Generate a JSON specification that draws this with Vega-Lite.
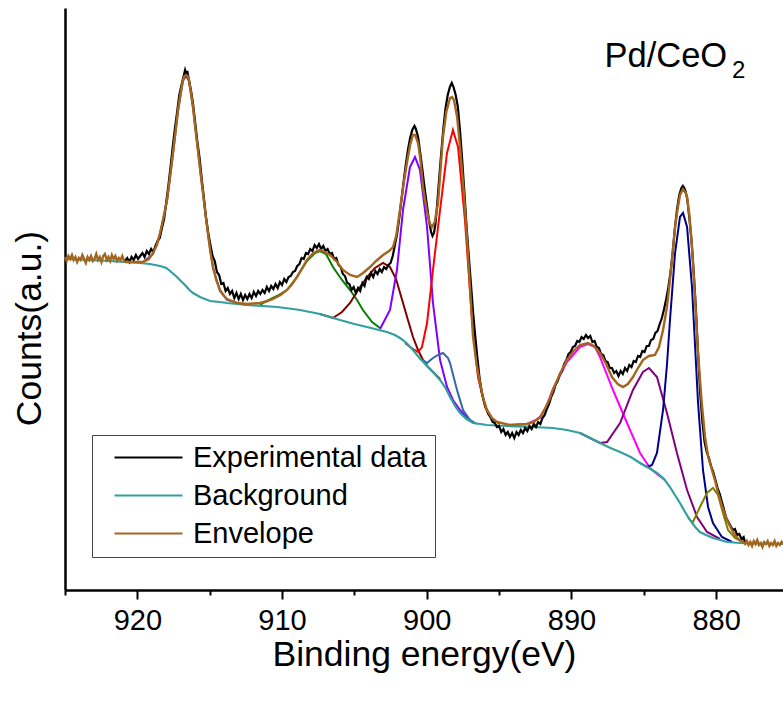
{
"$schema": "https://vega.github.io/schema/vega-lite/v6.json",
"width": 718, "height": 582,
"autosize": {"type": "none"},
"padding": {"left": 65, "top": 8, "right": 0, "bottom": 114},
"background": "white",
"config": {"view": {"stroke": null}, "font": "Liberation Sans"},
"datasets": {
"exp": [
{"x":920.85,"y":329},{"x":920.7,"y":332},{"x":920.55,"y":328},{"x":920.4,"y":333},{"x":920.25,"y":330},{"x":920.1,"y":335},{"x":919.95,"y":331},{"x":919.8,"y":334},{"x":919.65,"y":337},{"x":919.5,"y":333},{"x":919.35,"y":339},{"x":919.2,"y":336},{"x":919.05,"y":341},{"x":918.9,"y":338},{"x":918.75,"y":344},{"x":918.6,"y":349},{"x":918.45,"y":352},{"x":918.3,"y":362},{"x":918.15,"y":371},{"x":918.0,"y":388},{"x":917.85,"y":405},{"x":917.7,"y":424},{"x":917.55,"y":444},{"x":917.4,"y":462},{"x":917.25,"y":478},{"x":917.1,"y":495},{"x":916.95,"y":505},{"x":916.8,"y":514},{"x":916.7,"y":520},{"x":916.62,"y":516},{"x":916.55,"y":519},{"x":916.45,"y":511},{"x":916.3,"y":500},{"x":916.15,"y":486},{"x":916.0,"y":467},{"x":915.85,"y":448},{"x":915.7,"y":432},{"x":915.55,"y":411},{"x":915.4,"y":392},{"x":915.25,"y":372},{"x":915.1,"y":357},{"x":914.95,"y":345},{"x":914.8,"y":334},{"x":914.65,"y":329},{"x":914.5,"y":318},{"x":914.35,"y":315},{"x":914.2,"y":306},{"x":914.05,"y":307},{"x":913.9,"y":299},{"x":913.75,"y":302},{"x":913.6,"y":296},{"x":913.45,"y":299},{"x":913.3,"y":292},{"x":913.15,"y":297},{"x":913.0,"y":291},{"x":912.85,"y":296},{"x":912.7,"y":290},{"x":912.55,"y":295},{"x":912.4,"y":291},{"x":912.25,"y":296},{"x":912.1,"y":292},{"x":911.95,"y":298},{"x":911.8,"y":294},{"x":911.65,"y":299},{"x":911.5,"y":296},{"x":911.35,"y":300},{"x":911.2,"y":297},{"x":911.05,"y":303},{"x":910.9,"y":299},{"x":910.75,"y":304},{"x":910.6,"y":301},{"x":910.45,"y":306},{"x":910.3,"y":302},{"x":910.15,"y":308},{"x":910.0,"y":305},{"x":909.85,"y":311},{"x":909.7,"y":308},{"x":909.55,"y":313},{"x":909.4,"y":314},{"x":909.25,"y":318},{"x":909.1,"y":319},{"x":908.95,"y":324},{"x":908.8,"y":326},{"x":908.65,"y":332},{"x":908.5,"y":331},{"x":908.35,"y":337},{"x":908.2,"y":336},{"x":908.05,"y":341},{"x":907.9,"y":339},{"x":907.75,"y":345},{"x":907.6,"y":342},{"x":907.45,"y":346},{"x":907.3,"y":341},{"x":907.15,"y":344},{"x":907.0,"y":339},{"x":906.85,"y":341},{"x":906.7,"y":336},{"x":906.55,"y":337},{"x":906.4,"y":331},{"x":906.25,"y":332},{"x":906.1,"y":325},{"x":905.95,"y":323},{"x":905.8,"y":316},{"x":905.65,"y":314},{"x":905.5,"y":307},{"x":905.35,"y":306},{"x":905.2,"y":300},{"x":905.05,"y":303},{"x":904.9,"y":297},{"x":904.75,"y":302},{"x":904.6,"y":299},{"x":904.45,"y":307},{"x":904.3,"y":304},{"x":904.15,"y":313},{"x":904.0,"y":311},{"x":903.85,"y":317},{"x":903.7,"y":313},{"x":903.55,"y":319},{"x":903.4,"y":316},{"x":903.25,"y":321},{"x":903.1,"y":318},{"x":902.95,"y":323},{"x":902.8,"y":321},{"x":902.65,"y":325},{"x":902.5,"y":327},{"x":902.35,"y":334},{"x":902.2,"y":345},{"x":902.05,"y":356},{"x":901.9,"y":372},{"x":901.75,"y":390},{"x":901.6,"y":408},{"x":901.45,"y":425},{"x":901.3,"y":440},{"x":901.15,"y":452},{"x":901.0,"y":460},{"x":900.85,"y":464},{"x":900.75,"y":461},{"x":900.6,"y":453},{"x":900.45,"y":437},{"x":900.3,"y":420},{"x":900.15,"y":402},{"x":900.0,"y":386},{"x":899.85,"y":370},{"x":899.7,"y":358},{"x":899.6,"y":354},{"x":899.5,"y":357},{"x":899.4,"y":366},{"x":899.3,"y":382},{"x":899.15,"y":410},{"x":899.0,"y":437},{"x":898.85,"y":462},{"x":898.7,"y":482},{"x":898.55,"y":495},{"x":898.4,"y":503},{"x":898.27,"y":507},{"x":898.15,"y":503},{"x":898.0,"y":495},{"x":897.85,"y":483},{"x":897.7,"y":459},{"x":897.55,"y":430},{"x":897.4,"y":398},{"x":897.25,"y":364},{"x":897.1,"y":335},{"x":896.95,"y":307},{"x":896.8,"y":278},{"x":896.65,"y":254},{"x":896.5,"y":232},{"x":896.35,"y":212},{"x":896.2,"y":198},{"x":896.05,"y":189},{"x":895.9,"y":182},{"x":895.75,"y":176},{"x":895.6,"y":173},{"x":895.45,"y":168},{"x":895.3,"y":167},{"x":895.15,"y":163},{"x":895.0,"y":164},{"x":894.85,"y":158},{"x":894.7,"y":161},{"x":894.55,"y":155},{"x":894.4,"y":158},{"x":894.25,"y":153},{"x":894.1,"y":157},{"x":893.95,"y":152},{"x":893.8,"y":158},{"x":893.65,"y":155},{"x":893.5,"y":160},{"x":893.35,"y":157},{"x":893.2,"y":162},{"x":893.05,"y":159},{"x":892.9,"y":164},{"x":892.75,"y":161},{"x":892.6,"y":166},{"x":892.45,"y":163},{"x":892.3,"y":168},{"x":892.15,"y":166},{"x":892.0,"y":172},{"x":891.85,"y":175},{"x":891.7,"y":181},{"x":891.55,"y":186},{"x":891.4,"y":193},{"x":891.25,"y":198},{"x":891.1,"y":205},{"x":890.95,"y":209},{"x":890.8,"y":216},{"x":890.65,"y":219},{"x":890.5,"y":226},{"x":890.35,"y":230},{"x":890.2,"y":236},{"x":890.05,"y":238},{"x":889.9,"y":243},{"x":889.75,"y":244},{"x":889.6,"y":249},{"x":889.45,"y":248},{"x":889.3,"y":253},{"x":889.15,"y":251},{"x":889.0,"y":255},{"x":888.85,"y":252},{"x":888.7,"y":254},{"x":888.55,"y":248},{"x":888.4,"y":249},{"x":888.25,"y":243},{"x":888.1,"y":242},{"x":887.95,"y":236},{"x":887.8,"y":235},{"x":887.65,"y":229},{"x":887.5,"y":228},{"x":887.35,"y":222},{"x":887.2,"y":222},{"x":887.05,"y":217},{"x":886.9,"y":219},{"x":886.75,"y":214},{"x":886.6,"y":219},{"x":886.45,"y":216},{"x":886.3,"y":222},{"x":886.15,"y":219},{"x":886.0,"y":225},{"x":885.85,"y":223},{"x":885.7,"y":229},{"x":885.55,"y":228},{"x":885.4,"y":234},{"x":885.25,"y":233},{"x":885.1,"y":239},{"x":884.95,"y":238},{"x":884.8,"y":244},{"x":884.65,"y":244},{"x":884.5,"y":250},{"x":884.35,"y":251},{"x":884.2,"y":257},{"x":884.05,"y":259},{"x":883.9,"y":266},{"x":883.75,"y":272},{"x":883.6,"y":281},{"x":883.45,"y":291},{"x":883.3,"y":303},{"x":883.15,"y":318},{"x":883.0,"y":338},{"x":882.85,"y":362},{"x":882.7,"y":381},{"x":882.55,"y":395},{"x":882.4,"y":402},{"x":882.3,"y":404},{"x":882.2,"y":402},{"x":882.1,"y":398},{"x":882.0,"y":391},{"x":881.85,"y":372},{"x":881.7,"y":349},{"x":881.55,"y":318},{"x":881.4,"y":281},{"x":881.25,"y":236},{"x":881.1,"y":196},{"x":880.95,"y":168},{"x":880.8,"y":148},{"x":880.65,"y":138},{"x":880.5,"y":132},{"x":880.35,"y":124},{"x":880.2,"y":118},{"x":880.05,"y":110},{"x":879.9,"y":102},{"x":879.75,"y":96},{"x":879.6,"y":88},{"x":879.45,"y":80},{"x":879.3,"y":72},{"x":879.15,"y":68},{"x":879.0,"y":64},{"x":878.85,"y":60},{"x":878.7,"y":61},{"x":878.55,"y":55},{"x":878.4,"y":56},{"x":878.25,"y":51},{"x":878.1,"y":53},{"x":878.0,"y":47}
],
"env": [
{"x":925.0,"y":333},{"x":924.88,"y":329},{"x":924.76,"y":334},{"x":924.64,"y":331},{"x":924.52,"y":335},{"x":924.4,"y":330},{"x":924.28,"y":333},{"x":924.16,"y":328},{"x":924.04,"y":332},{"x":923.92,"y":330},{"x":923.8,"y":335},{"x":923.68,"y":331},{"x":923.56,"y":327},{"x":923.44,"y":333},{"x":923.32,"y":330},{"x":923.2,"y":334},{"x":923.08,"y":329},{"x":922.96,"y":331},{"x":922.84,"y":336},{"x":922.72,"y":330},{"x":922.6,"y":333},{"x":922.48,"y":328},{"x":922.36,"y":334},{"x":922.24,"y":336},{"x":922.12,"y":330},{"x":922.0,"y":333},{"x":921.88,"y":329},{"x":921.76,"y":335},{"x":921.64,"y":331},{"x":921.52,"y":334},{"x":921.4,"y":329},{"x":921.28,"y":332},{"x":921.16,"y":330},{"x":921.04,"y":334},{"x":920.92,"y":329},
{"x":920.8,"y":328},{"x":920.2,"y":328},{"x":919.61,"y":328},{"x":919.2,"y":331},{"x":918.92,"y":337},{"x":918.65,"y":345},{"x":918.43,"y":357},{"x":918.2,"y":372},{"x":917.95,"y":390},{"x":917.75,"y":412},{"x":917.54,"y":437},{"x":917.35,"y":460},{"x":917.19,"y":480},{"x":917.0,"y":498},{"x":916.85,"y":510},{"x":916.74,"y":514},{"x":916.64,"y":515},{"x":916.53,"y":514},{"x":916.43,"y":510},{"x":916.3,"y":498},{"x":916.15,"y":483},{"x":916.0,"y":463},{"x":915.81,"y":440},{"x":915.64,"y":418},{"x":915.46,"y":397},{"x":915.3,"y":377},{"x":915.12,"y":357},{"x":914.95,"y":338},{"x":914.77,"y":323},{"x":914.55,"y":310},{"x":914.29,"y":300},{"x":914.0,"y":294},{"x":913.8,"y":291},{"x":913.11,"y":287},{"x":912.42,"y":286},{"x":911.52,"y":287},{"x":911.0,"y":289},{"x":910.63,"y":291},{"x":910.1,"y":295},{"x":909.66,"y":300},{"x":909.3,"y":306},{"x":908.97,"y":313},{"x":908.6,"y":322},{"x":908.28,"y":330},{"x":907.9,"y":336},{"x":907.58,"y":339},{"x":907.38,"y":340},{"x":907.17,"y":339},{"x":906.93,"y":337},{"x":906.69,"y":335},{"x":906.2,"y":328},{"x":905.79,"y":320},{"x":905.3,"y":315},{"x":904.82,"y":313},{"x":904.4,"y":317},{"x":903.92,"y":323},{"x":903.5,"y":329},{"x":903.02,"y":335},{"x":902.6,"y":339},{"x":902.33,"y":343},{"x":902.1,"y":355},{"x":901.85,"y":380},{"x":901.6,"y":406},{"x":901.37,"y":427},{"x":901.15,"y":445},{"x":900.95,"y":455},{"x":900.8,"y":455},{"x":900.6,"y":447},{"x":900.45,"y":432},{"x":900.26,"y":403},{"x":900.0,"y":380},{"x":899.8,"y":367},{"x":899.64,"y":363},{"x":899.45,"y":368},{"x":899.22,"y":387},{"x":899.05,"y":420},{"x":898.88,"y":453},{"x":898.65,"y":478},{"x":898.39,"y":492},{"x":898.25,"y":493},{"x":898.12,"y":490},{"x":897.9,"y":473},{"x":897.7,"y":443},{"x":897.45,"y":400},{"x":897.22,"y":353},{"x":897.0,"y":300},{"x":896.8,"y":253},{"x":896.55,"y":225},{"x":896.32,"y":207},{"x":896.1,"y":192},{"x":895.84,"y":180},{"x":895.5,"y":172},{"x":895.14,"y":168},{"x":894.25,"y":165},{"x":893.07,"y":166},{"x":892.6,"y":168},{"x":892.17,"y":173},{"x":891.8,"y":182},{"x":891.48,"y":192},{"x":891.28,"y":200},{"x":890.8,"y":216},{"x":890.31,"y":230},{"x":889.85,"y":239},{"x":889.41,"y":245},{"x":888.86,"y":247},{"x":888.45,"y":244},{"x":888.03,"y":237},{"x":887.6,"y":226},{"x":887.2,"y":213},{"x":886.8,"y":206},{"x":886.44,"y":203},{"x":886.1,"y":206},{"x":885.75,"y":213},{"x":885.4,"y":222},{"x":885.06,"y":230},{"x":884.65,"y":234},{"x":884.23,"y":235},{"x":883.95,"y":243},{"x":883.67,"y":260},{"x":883.4,"y":283},{"x":883.19,"y":310},{"x":883.0,"y":338},{"x":882.84,"y":363},{"x":882.65,"y":382},{"x":882.5,"y":395},{"x":882.29,"y":401},{"x":882.1,"y":397},{"x":882.01,"y":393},{"x":881.85,"y":375},{"x":881.67,"y":343},{"x":881.45,"y":290},{"x":881.25,"y":237},{"x":881.0,"y":188},{"x":880.77,"y":153},{"x":880.55,"y":133},{"x":880.29,"y":120},{"x":880.05,"y":108},{"x":879.87,"y":97},{"x":879.55,"y":82},{"x":879.25,"y":70},{"x":878.95,"y":61},{"x":878.7,"y":55},{"x":878.4,"y":50},{"x":878.14,"y":48},
{"x":878.0,"y":46},{"x":877.88,"y":49},{"x":877.76,"y":45},{"x":877.64,"y":48},{"x":877.52,"y":44},{"x":877.4,"y":49},{"x":877.28,"y":46},{"x":877.16,"y":50},{"x":877.04,"y":45},{"x":876.92,"y":47},{"x":876.8,"y":43},{"x":876.68,"y":48},{"x":876.56,"y":46},{"x":876.44,"y":49},{"x":876.32,"y":44},{"x":876.2,"y":47},{"x":876.08,"y":45},{"x":875.96,"y":49},{"x":875.84,"y":44},{"x":875.72,"y":47},{"x":875.6,"y":45},{"x":875.48,"y":48},{"x":875.38,"y":46}
],
"bg": [
{"x":925.0,"y":331},{"x":922.0,"y":329},{"x":920.85,"y":328},{"x":919.82,"y":327},{"x":919.13,"y":326},{"x":918.43,"y":324},{"x":918.0,"y":322},{"x":917.74,"y":319},{"x":917.5,"y":316},{"x":917.26,"y":313},{"x":917.0,"y":309},{"x":916.71,"y":305},{"x":916.4,"y":300},{"x":916.15,"y":297},{"x":915.67,"y":293},{"x":914.98,"y":289},{"x":914.3,"y":288},{"x":913.8,"y":287},{"x":912.42,"y":285},{"x":910.35,"y":283},{"x":909.24,"y":281},{"x":908.76,"y":280},{"x":907.38,"y":276},{"x":906.0,"y":270},{"x":905.0,"y":266},{"x":904.13,"y":263},{"x":902.75,"y":258},{"x":902.2,"y":255},{"x":901.85,"y":252},{"x":901.4,"y":247},{"x":900.95,"y":240},{"x":900.5,"y":232},{"x":899.98,"y":224},{"x":899.5,"y":217},{"x":899.08,"y":210},{"x":898.7,"y":202},{"x":898.39,"y":193},{"x":898.0,"y":183},{"x":897.7,"y":177},{"x":897.25,"y":171},{"x":896.8,"y":167},{"x":896.3,"y":166},{"x":895.84,"y":165},{"x":894.45,"y":164},{"x":892.66,"y":163},{"x":891.28,"y":162},{"x":890.3,"y":160},{"x":889.41,"y":157},{"x":888.7,"y":152},{"x":888.03,"y":147},{"x":887.3,"y":142},{"x":886.64,"y":138},{"x":885.9,"y":133},{"x":885.26,"y":127},{"x":884.65,"y":122},{"x":884.09,"y":117},{"x":883.6,"y":111},{"x":883.19,"y":103},{"x":882.85,"y":95},{"x":882.5,"y":87},{"x":882.15,"y":78},{"x":881.81,"y":70},{"x":881.45,"y":63},{"x":881.12,"y":58},{"x":880.7,"y":55},{"x":880.22,"y":52},{"x":879.7,"y":50},{"x":879.25,"y":48},{"x":878.35,"y":47},{"x":875.38,"y":46}
],
"c916": [
{"x":919.61,"y":328},{"x":918.92,"y":336},{"x":918.43,"y":356},{"x":917.95,"y":389},{"x":917.54,"y":436},{"x":917.19,"y":479},{"x":916.85,"y":509},{"x":916.64,"y":514},{"x":916.43,"y":509},{"x":916.15,"y":482},{"x":915.81,"y":439},{"x":915.46,"y":396},{"x":915.12,"y":356},{"x":914.77,"y":322},{"x":914.29,"y":299},{"x":913.8,"y":290},{"x":913.11,"y":287},{"x":912.42,"y":285}
],
"green": [
{"x":911.52,"y":285},{"x":911.18,"y":288},{"x":910.35,"y":294},{"x":909.66,"y":300},{"x":908.97,"y":313},{"x":908.28,"y":329},{"x":907.72,"y":337},{"x":907.38,"y":339},{"x":906.96,"y":336},{"x":906.48,"y":323},{"x":905.86,"y":310},{"x":905.3,"y":300},{"x":904.82,"y":290},{"x":904.41,"y":280},{"x":903.78,"y":268},{"x":903.23,"y":262}
],
"maroon": [
{"x":907.38,"y":276},{"x":906.48,"y":272},{"x":905.86,"y":278},{"x":905.3,"y":287},{"x":904.75,"y":300},{"x":904.13,"y":313},{"x":903.58,"y":322},{"x":903.02,"y":327},{"x":902.54,"y":323},{"x":902.12,"y":311},{"x":901.64,"y":287},{"x":901.3,"y":270},{"x":900.95,"y":253},{"x":900.6,"y":240},{"x":900.26,"y":230},{"x":899.91,"y":223},{"x":899.57,"y":218},{"x":899.08,"y":211}
],
"violet": [
{"x":903.23,"y":261},{"x":902.54,"y":280},{"x":902.06,"y":320},{"x":901.64,"y":380},{"x":901.16,"y":423},{"x":900.81,"y":433},{"x":900.47,"y":420},{"x":899.98,"y":363},{"x":899.57,"y":287},{"x":899.08,"y":230},{"x":898.6,"y":203},{"x":898.19,"y":190},{"x":897.7,"y":180},{"x":897.22,"y":172},{"x":896.8,"y":168}
],
"red": [
{"x":901.5,"y":247},{"x":901.16,"y":243},{"x":900.6,"y":238},{"x":900.33,"y":243},{"x":899.98,"y":267},{"x":899.57,"y":320},{"x":899.08,"y":380},{"x":898.6,"y":437},{"x":898.19,"y":460},{"x":897.84,"y":443},{"x":897.36,"y":370},{"x":896.87,"y":270},{"x":896.46,"y":213},{"x":895.97,"y":183},{"x":895.42,"y":170},{"x":894.94,"y":166}
],
"steel": [
{"x":900.26,"y":230},{"x":899.98,"y":227},{"x":899.57,"y":232},{"x":899.22,"y":235},{"x":898.88,"y":237},{"x":898.53,"y":232},{"x":898.39,"y":227},{"x":897.91,"y":200},{"x":897.49,"y":180},{"x":897.01,"y":170},{"x":896.53,"y":166}
],
"magenta": [
{"x":894.25,"y":165},{"x":893.07,"y":166},{"x":892.17,"y":172},{"x":891.7,"y":185},{"x":891.28,"y":201},{"x":890.31,"y":228},{"x":889.41,"y":243},{"x":888.86,"y":246},{"x":888.37,"y":243},{"x":888.03,"y":233},{"x":887.13,"y":200},{"x":886.16,"y":167},{"x":885.26,"y":137},{"x":884.57,"y":122},{"x":884.09,"y":116},{"x":883.54,"y":110}
],
"purple": [
{"x":889.41,"y":157},{"x":888.72,"y":152},{"x":888.03,"y":147},{"x":887.54,"y":148},{"x":886.64,"y":167},{"x":885.75,"y":200},{"x":885.06,"y":218},{"x":884.64,"y":222},{"x":884.09,"y":213},{"x":883.4,"y":177},{"x":882.71,"y":137},{"x":882.01,"y":100},{"x":881.32,"y":73},{"x":880.63,"y":58},{"x":879.73,"y":51}
],
"navy": [
{"x":885.26,"y":127},{"x":884.78,"y":123},{"x":884.43,"y":125},{"x":884.09,"y":137},{"x":883.67,"y":180},{"x":883.4,"y":225},{"x":883.19,"y":270},{"x":882.84,"y":337},{"x":882.5,"y":373},{"x":882.29,"y":377},{"x":882.01,"y":363},{"x":881.67,"y":303},{"x":881.25,"y":187},{"x":880.91,"y":120},{"x":880.56,"y":83},{"x":880.22,"y":67},{"x":879.6,"y":53},{"x":878.9,"y":48}
],
"olive": [
{"x":881.95,"y":73},{"x":881.81,"y":70},{"x":881.6,"y":68},{"x":881.12,"y":83},{"x":880.63,"y":97},{"x":880.22,"y":102},{"x":879.87,"y":95},{"x":879.53,"y":77},{"x":879.18,"y":60},{"x":878.7,"y":52},{"x":878.14,"y":48}
],
"label": [
{"x":887.72,"y":523.3,"t":"Pd/CeO"}
],
"sub": [
{"x":878.9,"y":512,"t":"2"}
]
},
"encoding": {
"x": {"field": "x", "type": "quantitative",
 "scale": {"domain": [925, 875.38], "nice": false, "zero": false},
 "axis": {"values": [925,920,915,910,905,900,895,890,885,880],
  "labelExpr": "datum.value % 10 === 0 ? datum.label : ''",
  "tickSize": {"condition": {"test": "datum.value % 10 === 0", "value": 9}, "value": 5},
  "tickWidth": 2, "tickColor": "black", "domainColor": "black", "domainWidth": 2.5,
  "labelFont": "Liberation Sans", "labelFontSize": 29, "labelColor": "black", "labelPadding": 7,
  "labelFlush": false, "labelOverlap": false, "grid": false,
  "title": "Binding energy(eV)", "titleFont": "Liberation Sans", "titleFontSize": 35.5,
  "titleFontWeight": "normal", "titleColor": "black", "titlePadding": 2}},
"y": {"field": "y", "type": "quantitative",
 "scale": {"domain": [0, 582], "nice": false, "zero": false},
 "axis": {"ticks": false, "labels": false, "grid": false, "domainColor": "black", "domainWidth": 2.5,
  "title": "Counts(a.u.)", "titleFont": "Liberation Sans", "titleFontSize": 35.5, "titleFontWeight": "normal",
  "titleColor": "black", "titleAngle": -90, "titleX": -36, "titleY": 320, "titleAlign": "center", "titleBaseline": "middle"}}
},
"layer": [
{"data": {"name": "c916"}, "mark": {"type": "line", "color": "#6a3d9a", "strokeWidth": 2}},
{"data": {"name": "green"}, "mark": {"type": "line", "color": "#008000", "strokeWidth": 2}},
{"data": {"name": "maroon"}, "mark": {"type": "line", "color": "#800000", "strokeWidth": 2}},
{"data": {"name": "violet"}, "mark": {"type": "line", "color": "#8000ff", "strokeWidth": 2}},
{"data": {"name": "red"}, "mark": {"type": "line", "color": "#ff0000", "strokeWidth": 2}},
{"data": {"name": "steel"}, "mark": {"type": "line", "color": "#3366aa", "strokeWidth": 2}},
{"data": {"name": "magenta"}, "mark": {"type": "line", "color": "#ff00ff", "strokeWidth": 2}},
{"data": {"name": "purple"}, "mark": {"type": "line", "color": "#800080", "strokeWidth": 2}},
{"data": {"name": "navy"}, "mark": {"type": "line", "color": "#00008b", "strokeWidth": 2}},
{"data": {"name": "olive"}, "mark": {"type": "line", "color": "#808000", "strokeWidth": 2}},
{"data": {"name": "bg"}, "mark": {"type": "line", "strokeWidth": 2.2},
 "encoding": {"color": {"datum": "Background", "type": "nominal",
  "scale": {"domain": ["Experimental data", "Background", "Envelope"], "range": ["#000000", "#33a0a0", "#a4651e"]},
  "legend": {"title": null, "orient": "none", "legendX": 27, "legendY": 427, "symbolType": "stroke", "symbolSize": 4624, "symbolStrokeWidth": 2.2, "clipHeight": 29, "labelFont": "Liberation Sans", "labelFontSize": 29, "labelColor": "black", "labelOffset": 9, "symbolOffset": 13, "padding": 8, "rowPadding": 8, "strokeColor": "#444444", "fillColor": "white", "labelLimit": 0}}}},
{"data": {"name": "exp"}, "mark": {"type": "line", "strokeWidth": 2.2},
 "encoding": {"color": {"datum": "Experimental data", "type": "nominal"}}},
{"data": {"name": "env"}, "mark": {"type": "line", "strokeWidth": 2.4},
 "encoding": {"color": {"datum": "Envelope", "type": "nominal"}}},
{"data": {"name": "label"}, "mark": {"type": "text", "align": "left", "baseline": "alphabetic", "font": "Liberation Sans", "fontSize": 34.5, "fill": "black"},
 "encoding": {"text": {"field": "t", "type": "nominal"}}},
{"data": {"name": "sub"}, "mark": {"type": "text", "align": "left", "baseline": "alphabetic", "font": "Liberation Sans", "fontSize": 24, "fill": "black"},
 "encoding": {"text": {"field": "t", "type": "nominal"}}}
]
}
